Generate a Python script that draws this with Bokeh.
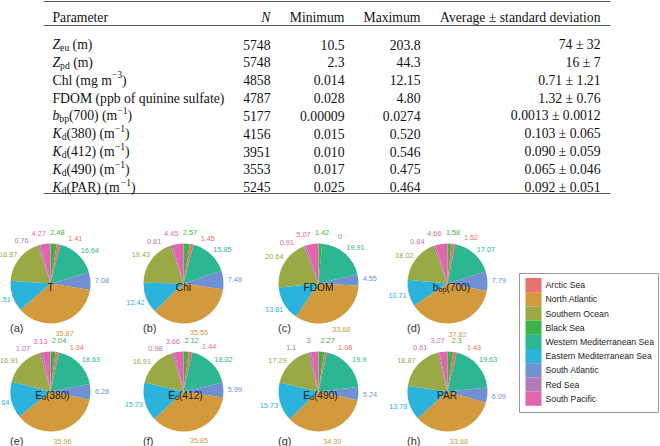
import math
from bokeh.plotting import figure
from bokeh.models import Range1d, ColumnDataSource
from bokeh.core.properties import value
from bokeh.embed import file_html
from bokeh.resources import INLINE

W, H = 660, 446

# ---------------- table data ----------------
tbl_labels = [
    [("Z", "i"), ("eu", "sub"), (" (m)", "n")],
    [("Z", "i"), ("pd", "sub"), (" (m)", "n")],
    [("Chl (mg m", "n"), ("\u22123", "sup"), (")", "n")],
    [("FDOM (ppb of quinine sulfate)", "n")],
    [("b", "i"), ("bp", "sub"), ("(700) (m", "n"), ("\u22121", "sup"), (")", "n")],
    [("K", "i"), ("d", "sub"), ("(380) (m", "n"), ("\u22121", "sup"), (")", "n")],
    [("K", "i"), ("d", "sub"), ("(412) (m", "n"), ("\u22121", "sup"), (")", "n")],
    [("K", "i"), ("d", "sub"), ("(490) (m", "n"), ("\u22121", "sup"), (")", "n")],
    [("K", "i"), ("d", "sub"), ("(PAR) (m", "n"), ("\u22121", "sup"), (")", "n")],
]
tbl_N = ["5748", "5748", "4858", "4787", "5177", "4156", "3951", "3553", "5245"]
tbl_min = ["10.5", "2.3", "0.014", "0.028", "0.00009", "0.015", "0.010", "0.017", "0.025"]
tbl_max = ["203.8", "44.3", "12.15", "4.80", "0.0274", "0.520", "0.546", "0.475", "0.464"]
tbl_avg = ["74", "16", "0.71", "1.32", "0.0013", "0.103", "0.090", "0.065", "0.092"]
tbl_sd = ["32", "7", "1.21", "0.76", "0.0012", "0.065", "0.059", "0.046", "0.051"]
tbl_headers = ["Parameter", "N", "Minimum", "Maximum", "Average \u00b1 standard deviation"]

# ---------------- pie data (percent, legend order) ----------------
regions = ["Arctic Sea", "North Atlantic", "Southern Ocean", "Black Sea",
           "Western Mediterranean Sea", "Eastern Mediterranean Sea",
           "South Atlantic", "Red Sea", "South Pacific"]
region_colors = ["#E8736E", "#D29A3C", "#9AA845", "#3BB54A", "#2DB692",
                 "#2BB3DC", "#6F91D2", "#B479B7", "#E266AB"]
wedge_order = ["Black Sea", "Arctic Sea", "Western Mediterranean Sea", "South Atlantic",
               "North Atlantic", "Eastern Mediterranean Sea", "Southern Ocean",
               "Red Sea", "South Pacific"]

pct_T = [1.41, 35.87, 18.87, 2.48, 16.64, 12.51, 7.08, 0.76, 4.27]
pct_Chl = [1.45, 35.55, 19.43, 2.57, 15.85, 12.42, 7.48, 0.81, 4.45]
pct_FDOM = [0, 33.68, 20.64, 1.42, 19.91, 13.81, 4.55, 0.91, 5.07]
pct_bbp = [1.52, 37.82, 18.02, 1.58, 17.07, 10.71, 7.79, 0.84, 4.66]
pct_Ed380 = [1.34, 35.96, 16.91, 2.04, 18.63, 14.64, 6.28, 1.07, 3.13]
pct_Ed412 = [1.44, 35.85, 16.91, 2.12, 18.02, 15.73, 5.99, 0.98, 3.66]
pct_Ed490 = [1.08, 34.39, 17.29, 2.27, 19.9, 15.73, 5.24, 1.1, 3]
pct_PAR = [1.43, 33.68, 18.87, 2.3, 19.63, 13.78, 6.09, 0.61, 3.27]

panel_names = [("T", "", ""), ("Chl", "", ""), ("FDOM", "", ""), ("b", "bp", "(700)"),
               ("E", "d", "(380)"), ("E", "d", "(412)"), ("E", "d", "(490)"), ("PAR", "", "")]
panel_tags = ["(a)", "(b)", "(c)", "(d)", "(e)", "(f)", "(g)", "(h)"]
panel_values = [pct_T, pct_Chl, pct_FDOM, pct_bbp, pct_Ed380, pct_Ed412, pct_Ed490, pct_PAR]

# ---------------- layout / style ----------------
SERIF = "Liberation Serif"
SANS = "Liberation Sans"
TSZ, TSUB = 13.7, 9.6
SUB_DY, SUP_DY = 3.0, -5.3
COL_LEFT, COL_N, COL_MIN, COL_MAX, COL_AVG = 52, 270, 344, 420, 600
RULE_X0, RULE_X1 = 43, 610
RULE_Y = [1, 25, 193]
HEADER_BASE, ROW0_BASE, ROW_STEP = 17, 44, 17.85

PIE_CX = [50, 183, 318, 447]
PIE_CY = [283, 391]
PIE_R = 40
LABEL_R = 51.5
TAG_Y = [327, 440]

LEG_BOX = (519, 273, 658, 412)
LEG_SW_X0, LEG_SW_X1, LEG_TOP, LEG_STEP, LEG_TX = 525, 541, 277.5, 14.2, 545

TIMES = {' ': 250, '(': 333, ')': 333, '.': 250, '\u00b1': 564, '\u2212': 564,
         'a': 444, 'b': 500, 'c': 444, 'd': 500, 'e': 444, 'f': 333, 'g': 500, 'h': 500,
         'i': 278, 'l': 278, 'm': 778, 'n': 500, 'o': 500, 'p': 500, 'q': 500, 'r': 333,
         's': 389, 't': 278, 'u': 500, 'v': 500, 'A': 722, 'C': 667, 'D': 722, 'F': 556,
         'K': 722, 'M': 889, 'N': 722, 'O': 722, 'P': 556, 'R': 667, 'Z': 611}
TIMES_IT = dict(TIMES, K=667, Z=556, b=500, N=667)
ARIAL = {' ': 278, '(': 333, ')': 333, '.': 278, 'A': 667, 'C': 722, 'D': 722, 'E': 667,
         'F': 611, 'M': 833, 'O': 778, 'P': 667, 'R': 722, 'T': 611, 'b': 556, 'p': 556,
         'd': 556, 'h': 556, 'l': 222, 'a': 556}


def tw(s, size, table):
    return sum(table.get(c, 500 if table is not ARIAL else 556) for c in s) * size / 1000.0


def Y(py):
    return H - py


p = figure(width=W, height=H, x_range=Range1d(0, W), y_range=Range1d(0, H),
           output_backend="svg", toolbar_location=None,
           x_axis_location=None, y_axis_location=None, min_border=0)
p.grid.visible = False
p.outline_line_color = None
p.background_fill_color = "white"
p.border_fill_color = "white"

texts = {}


def add_text(x, py, s, font, size, style="normal", color="#111111", align="left",
             baseline="alphabetic"):
    key = (font, size, style, color, align, baseline)
    d = texts.setdefault(key, {"x": [], "y": [], "text": []})
    d["x"].append(x)
    d["y"].append(Y(py))
    d["text"].append(s)


def rich(x, base, segs, font, size, subsize, table, table_it, align="left", color="#111111"):
    parts = []
    for s, kind in segs:
        if kind in ("sub", "sup"):
            sz, dy, st = subsize, (SUB_DY if kind == "sub" else SUP_DY) * size / TSZ, "normal"
        elif kind == "i":
            sz, dy, st = size, 0, "italic"
        else:
            sz, dy, st = size, 0, "normal"
        tab = table_it if st == "italic" else table
        parts.append((s, sz, st, dy, tab))
    total = sum(tw(s, sz, tab) for s, sz, st, dy, tab in parts)
    cx = x if align == "left" else x - total
    for s, sz, st, dy, tab in parts:
        stripped = s.lstrip(" ")
        lead = len(s) - len(stripped)
        cx += lead * tab[' '] * sz / 1000.0
        if stripped:
            add_text(cx, base + dy, stripped, font, sz, st, color)
        cx += tw(stripped, sz, tab)


# ---------------- table ----------------
p.segment(x0=[RULE_X0] * 3, x1=[RULE_X1] * 3, y0=[Y(v) for v in RULE_Y],
          y1=[Y(v) for v in RULE_Y], line_color="#555555", line_width=1.2)

add_text(COL_LEFT, HEADER_BASE, tbl_headers[0], SERIF, TSZ)
add_text(COL_N, HEADER_BASE, tbl_headers[1], SERIF, TSZ, "italic", align="right")
add_text(COL_MIN, HEADER_BASE, tbl_headers[2], SERIF, TSZ, align="right")
add_text(COL_MAX, HEADER_BASE, tbl_headers[3], SERIF, TSZ, align="right")
add_text(COL_AVG, HEADER_BASE, tbl_headers[4], SERIF, TSZ, align="right")

for i in range(len(tbl_N)):
    base = ROW0_BASE + i * ROW_STEP
    rich(COL_LEFT, base, tbl_labels[i], SERIF, TSZ, TSUB, TIMES, TIMES_IT)
    add_text(COL_N, base, tbl_N[i], SERIF, TSZ, align="right")
    add_text(COL_MIN, base, tbl_min[i], SERIF, TSZ, align="right")
    add_text(COL_MAX, base, tbl_max[i], SERIF, TSZ, align="right")
    add_text(COL_AVG, base, f"{tbl_avg[i]} \u00b1 {tbl_sd[i]}", SERIF, TSZ, align="right")


# ---------------- pies ----------------
def spread(angles, minsep):
    a = [((v + 180.0) % 360.0) - 180.0 for v in angles]
    order = sorted(range(len(a)), key=lambda i: a[i])
    for _ in range(300):
        moved = False
        for k in range(len(order) - 1):
            i, j = order[k], order[k + 1]
            gap = a[j] - a[i]
            if gap < minsep - 1e-6:
                d = (minsep - gap) / 2.0
                a[i] -= d
                a[j] += d
                moved = True
        if not moved:
            break
    return a


wx, wy, ws, we, wc = [], [], [], [], []
for k, vals in enumerate(panel_values):
    cx = PIE_CX[k % 4]
    cy = PIE_CY[k // 4]
    ordered = [(r, vals[regions.index(r)], region_colors[regions.index(r)]) for r in wedge_order]
    total = sum(v for _, v, _ in ordered)
    cum = 0.0
    mids, labs, cols = [], [], []
    for r, v, c in ordered:
        a0 = cum / total * 360.0
        cum += v
        a1 = cum / total * 360.0
        if v > 0:
            wx.append(cx)
            wy.append(Y(cy))
            ws.append(math.radians(90 - a0))
            we.append(math.radians(90 - a1))
            wc.append(c)
        mids.append((a0 + a1) / 2.0)
        labs.append(f"{v:g}")
        cols.append(c)
    adj = spread(mids, 21.0)
    for ang, lab, c in zip(adj, labs, cols):
        t = math.radians(ang)
        lx = cx + LABEL_R * math.sin(t)
        ly = cy - LABEL_R * math.cos(t)
        add_text(lx, ly, lab, SANS, 7.3, color=c, align="center", baseline="middle")
    main, sub, rest = panel_names[k]
    msz, ssz = 10.2, 7.1
    w_ns = tw(main, msz, ARIAL) + tw(rest, msz, ARIAL)
    x0 = cx - w_ns / 2.0
    base = cy + 3.7
    add_text(x0, base, main, SANS, msz, color="#1a1a1a")
    x0 += tw(main, msz, ARIAL)
    if sub:
        add_text(x0, base + 3.0, sub, SANS, ssz, color="#1a1a1a")
        x0 += tw(sub, ssz, ARIAL)
    if rest:
        add_text(x0, base, rest, SANS, msz, color="#1a1a1a")
    add_text(cx - PIE_R - 0.5, TAG_Y[k // 4], panel_tags[k], SANS, 11, color="#333333")

p.wedge(source=ColumnDataSource(dict(x=wx, y=wy, s=ws, e=we, c=wc)), x="x", y="y",
        radius=PIE_R, start_angle="s", end_angle="e", direction="clock",
        fill_color="c", line_color=None)

# ---------------- legend ----------------
p.quad(left=[LEG_BOX[0]], right=[LEG_BOX[2]], top=[Y(LEG_BOX[1])], bottom=[Y(LEG_BOX[3])],
       fill_color="white", line_color="#9a9a9a", line_width=1)
n = len(regions)
p.quad(left=[LEG_SW_X0] * n, right=[LEG_SW_X1] * n,
       top=[Y(LEG_TOP + i * LEG_STEP) for i in range(n)],
       bottom=[Y(LEG_TOP + (i + 1) * LEG_STEP) for i in range(n)],
       fill_color=region_colors, line_color=None)
for i, r in enumerate(regions):
    add_text(LEG_TX, LEG_TOP + (i + 0.5) * LEG_STEP, r, SANS, 8.7, color="#222222",
             baseline="middle")

# ---------------- draw texts ----------------
for (font, size, style, color, align, baseline), d in texts.items():
    p.text(x=d["x"], y=d["y"], text=d["text"], text_font=value(font),
           text_font_size=f"{size}px", text_font_style=style, text_color=color,
           text_align=align, text_baseline=baseline)

open("out.html", "w").write(file_html(p, INLINE))
